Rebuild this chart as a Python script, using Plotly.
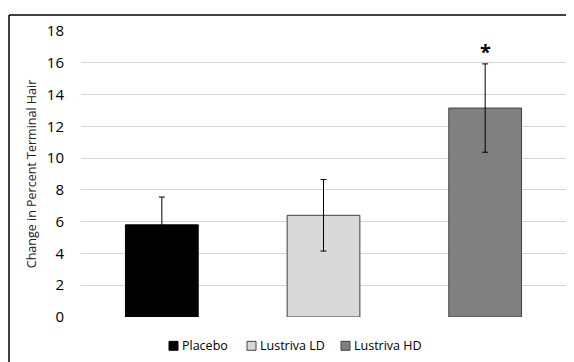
import plotly.graph_objects as go

categories = ["Placebo", "Lustriva LD", "Lustriva HD"]
values = [5.8, 6.4, 13.15]
errors = [1.75, 2.25, 2.78]
colors = ["#000000", "#d9d9d9", "#808080"]
outlines = ["#000000", "#404040", "#404040"]
y_ticks = [0, 2, 4, 6, 8, 10, 12, 14, 16, 18]

# page offset (body margin) compensation
O = 8
FW, FH = 574, 362
L, R, T, B = 81 - O, 566 - O, 29 - O, 317 - O
W, H = R - L, B - T

def px(x):
    return (x - O - L) / W

def py(y):
    return (B - (y - O)) / H

fig = go.Figure()
for cat, v, e, c, o in zip(categories, values, errors, colors, outlines):
    fig.add_trace(go.Bar(
        x=[cat], y=[v], name=cat, width=0.45, showlegend=False,
        marker=dict(color=c, line=dict(color=o, width=1)),
        error_y=dict(type="data", array=[e], visible=True, color="#000000",
                     thickness=1, width=3),
    ))

fig.add_annotation(x=categories[2], y=values[2] + errors[2] + 0.75, text="<b>*</b>",
                   showarrow=False, font=dict(size=20, color="#000000"), yanchor="middle")

# outer frame: only the top and left edges are visible in the window
fig.add_shape(type="line", xref="paper", yref="paper",
              x0=px(9), x1=px(580), y0=py(13), y1=py(13),
              line=dict(color="#000000", width=1.5), layer="below")
fig.add_shape(type="line", xref="paper", yref="paper",
              x0=px(9), x1=px(9), y0=py(13), y1=py(370),
              line=dict(color="#000000", width=1.5), layer="below")

# manual legend
legend_x = [169, 247, 341]
for cat, c, o, lx in zip(categories, colors, outlines, legend_x):
    fig.add_shape(type="rect", xref="paper", yref="paper",
                  x0=px(lx), x1=px(lx + 9), y0=py(350.5), y1=py(341.5),
                  line=dict(color=o, width=1), fillcolor=c)
    fig.add_annotation(xref="paper", yref="paper", x=px(lx + 11), y=py(346),
                       text=cat, showarrow=False, xanchor="left", yanchor="middle",
                       font=dict(size=12.5, color="#000000"))

fig.update_layout(
    width=FW, height=FH,
    margin=dict(l=L, r=FW - R, t=T, b=FH - B),
    paper_bgcolor="white", plot_bgcolor="white",
    barmode="overlay",
    font=dict(family="Open Sans, sans-serif", color="#000000"),
    showlegend=False,
    xaxis=dict(showticklabels=False, showgrid=False, zeroline=False, showline=False,
               categoryorder="array", categoryarray=categories, range=[-0.5, 2.5]),
    yaxis=dict(range=[0, 18], tickvals=y_ticks, showgrid=True, gridcolor="#d4d4d4",
               gridwidth=1, zeroline=False, showline=False,
               tickfont=dict(size=15, color="#000000"), ticks="", ticklabelstandoff=16,
               title=dict(text="Change in Percent Terminal Hair", font=dict(size=12.5, color="#222222"),
                          standoff=7)),
)

fig.write_html("out.html")
